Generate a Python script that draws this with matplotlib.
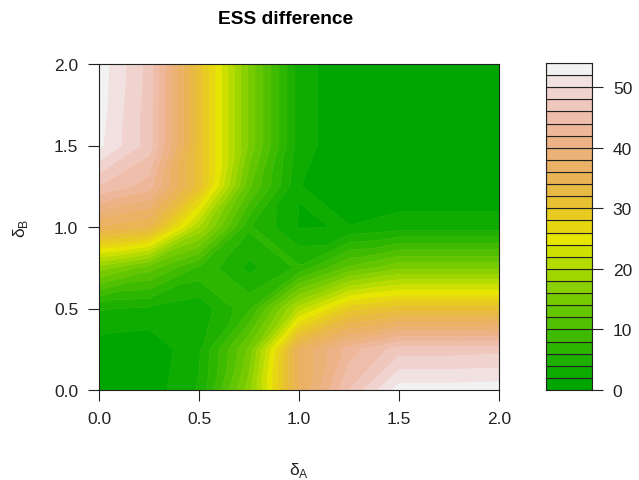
import colorsys
import matplotlib
matplotlib.use('Agg')
import matplotlib.pyplot as plt
import matplotlib.tri as mtri
import numpy as np

plt.rcParams['font.family'] = ['Liberation Sans', 'DejaVu Sans']

delta_a = [0, 0.25, 0.5, 0.75, 1, 1.25, 1.5, 1.75, 2]
delta_b = [0, 0.25, 0.5, 0.75, 1, 1.25, 1.5, 1.75, 2]

# one row per delta_b
ess_b000 = [0.3, 0.8, 4.2, 17, 36, 46, 53, 53, 53.2]
ess_b025 = [0.8, 0.4, 3.7, 14.5, 36, 43, 47, 47, 47.3]
ess_b050 = [4.2, 3.7, 2.6, 7.5, 21, 29, 31, 31, 31]
ess_b075 = [17, 13, 7.6, 3.4, 6.35, 12.5, 15.5, 15.5, 15.5]
ess_b100 = [36, 34, 20, 6.35, 1.85, 2.1, 3, 3, 3]
ess_b125 = [46, 43, 31, 12.5, 2.1, 0.5, 0.3, 0.3, 0.3]
ess_b150 = [52.5, 47, 31, 15.5, 3, 0.3, 0.2, 0.2, 0.2]
ess_b175 = [53, 47, 31, 15.5, 3, 0.3, 0.2, 0.2, 0.2]
ess_b200 = [53.2, 47.3, 31, 15.5, 3, 0.3, 0.2, 0.2, 0.2]

levels = list(range(0, 56, 2))
axis_ticks = [0.0, 0.5, 1.0, 1.5, 2.0]
bar_ticks = [0, 10, 20, 30, 40, 50]


# same ramp as R's terrain.colors
def terrain_colors(n):
    k = n // 2
    out = []
    for i in range(k):
        t = i / (k - 1)
        out.append(colorsys.hsv_to_rgb((4 - 2 * t) / 12, 1, 0.65 + 0.25 * t))
    m = n - k
    for i in range(1, m + 1):
        t = i / m
        out.append(colorsys.hsv_to_rgb((2 - 2 * t) / 12, 1 - t, 0.9 + 0.05 * t))
    return out


# split each cell along the diagonal with the closest values, keeps ridges joined
def build_triangles(z):
    ny, nx = z.shape
    tris = []
    for j in range(ny - 1):
        for i in range(nx - 1):
            a = j * nx + i
            b = a + 1
            c = a + nx
            d = c + 1
            if abs(z[j, i] - z[j + 1, i + 1]) < abs(z[j, i + 1] - z[j + 1, i]):
                tris += [[a, b, d], [a, d, c]]
            else:
                tris += [[a, b, c], [b, d, c]]
    return tris


W, H = 639, 481
fig = plt.figure(figsize=(W / 100, H / 100), dpi=100)
ax = fig.add_axes([99 / W, 1 - 391 / H, 400 / W, 326 / H])
cax = fig.add_axes([546 / W, 1 - 391 / H, 46 / W, 327 / H])

z = np.array([ess_b000, ess_b025, ess_b050, ess_b075, ess_b100,
              ess_b125, ess_b150, ess_b175, ess_b200])
xx, yy = np.meshgrid(delta_a, delta_b)
colors = terrain_colors(len(levels) - 1)

tri = mtri.Triangulation(xx.ravel(), yy.ravel(), build_triangles(z))
cs = ax.tricontourf(tri, z.ravel(), levels=levels, colors=colors, antialiased=True)
# hide the hairlines between the bands
cs.set_edgecolor('face')
cs.set_linewidth(0.4)

ax.set_xlim(0, 2)
ax.set_ylim(0, 2)
ax.set_xticks(axis_ticks)
ax.set_yticks(axis_ticks)
ax.set_xticklabels(['%.1f' % t for t in axis_ticks])
ax.set_yticklabels(['%.1f' % t for t in axis_ticks])
ax.tick_params(length=8, width=0.8, labelsize=12.5, pad=7, color='#222222', labelcolor='#222222')
for s in ax.spines.values():
    s.set_linewidth(0.8)
    s.set_color('#222222')

cax.bar(0.5, np.diff(levels), bottom=levels[:-1], width=1, color=colors,
        edgecolor='#222222', linewidth=0.8)
cax.set_xlim(0, 1)
cax.set_ylim(0, 54)
cax.set_xticks([])
cax.yaxis.tick_right()
cax.set_yticks(bar_ticks)
cax.tick_params(length=8, width=0.8, labelsize=12.5, pad=7, color='#222222', labelcolor='#222222')
for s in cax.spines.values():
    s.set_linewidth(0.8)
    s.set_color('#222222')

fig.text(285.5 / W, 1 - 19.5 / H, 'ESS difference', ha='center', va='center',
         fontsize=13.8, fontweight='bold', color='black')
fig.text(299 / W, 1 - 471 / H, 'δ$_\\mathregular{A}$', ha='center', va='center',
         fontsize=12.5, color='#222222')
fig.text(21 / W, 1 - 228 / H, 'δ$_\\mathregular{B}$', ha='center', va='center',
         rotation=90, fontsize=12.5, color='#222222')

fig.savefig('out.png', dpi=100)
